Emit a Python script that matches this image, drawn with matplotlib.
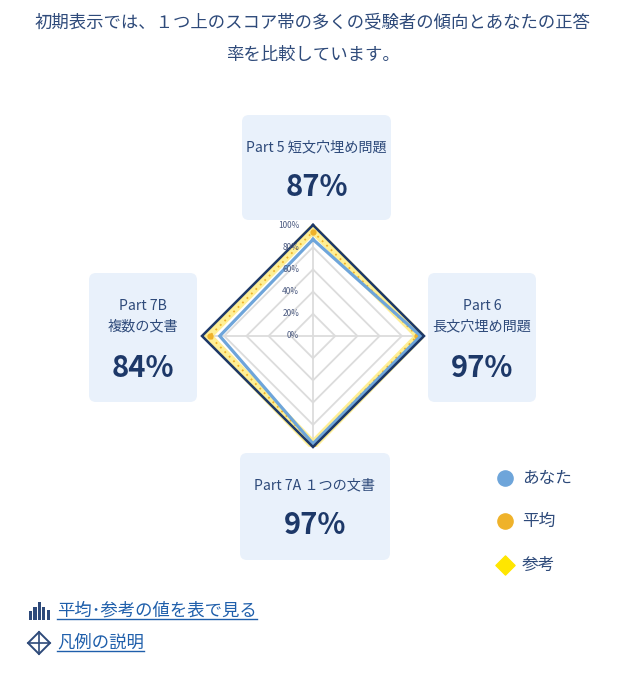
import numpy as np
import matplotlib.pyplot as plt
from matplotlib.patches import FancyBboxPatch, Polygon

# D A T A ----------------------------------------------------------
part_names = ['Part 5 短文穴埋め問題', 'Part 6\n長文穴埋め問題', 'Part 7A １つの文書', 'Part 7B\n複数の文書']
you_scores = [87, 97, 97, 84]          # あなた
avg_scores = [94, 94, 97, 93]          # 平均
ref_scores = [96, 96, 98, 95]          # 参考
grid_levels = [0, 20, 40, 60, 80, 100]
legend_names = ['あなた', '平均', '参考']
icon_bars = [0.5, 0.75, 1.0, 0.7, 0.55]

title_lines = ['初期表示では、１つ上のスコア帯の多くの受験者の傾向とあなたの正答',
               '率を比較しています。']
link_texts = ['平均･参考の値を表で見る', '凡例の説明']

# S T Y L E --------------------------------------------------------
FONT = ['Noto Sans CJK JP', 'DejaVu Sans']
plt.rcParams['font.family'] = FONT
NAVY = '#2e4a7a'
DARK_NAVY = '#1d3868'
BOX_FILL = '#e9f1fb'
BLUE = '#6ea5da'
ORANGE = '#efb22a'
YELLOW = '#ffe600'
BAND = '#ffeb7a'
GRID = '#dcdcdc'
LINK = '#1f5fab'

W, H = 626, 680
fig = plt.figure(figsize=(W / 100, H / 100), dpi=100)

# pixel-space background axes for boxes, text, legend, links
bg = fig.add_axes([0, 0, 1, 1], zorder=0)
bg.set_xlim(0, W)
bg.set_ylim(H, 0)
bg.axis('off')

# title
for y, line in zip([22, 55], title_lines):
    bg.text(313, y, line, ha='center', va='center', fontsize=12.5, color=NAVY)

# category boxes (x0, y0, x1, y1) in pixels
boxes = [(242, 115, 391, 220), (428, 273, 536, 402), (240, 453, 390, 560), (89, 273, 197, 402)]
for (x0, y0, x1, y1), name, val in zip(boxes, part_names, you_scores):
    bg.add_patch(FancyBboxPatch((x0, y0), x1 - x0, y1 - y0,
                                boxstyle='round,pad=0,rounding_size=7',
                                facecolor=BOX_FILL, edgecolor='none'))
    cx = (x0 + x1) / 2
    if '\n' in name:
        bg.text(cx, y0 + 43, name, ha='center', va='center', fontsize=10.2,
                color=NAVY, linespacing=1.55)
        bg.text(cx, y0 + 95, f'{val}%', ha='center', va='center', fontsize=21,
                fontweight='bold', color=DARK_NAVY)
    else:
        bg.text(cx, y0 + 32, name, ha='center', va='center', fontsize=10.2, color=NAVY)
        bg.text(cx, y0 + 72, f'{val}%', ha='center', va='center', fontsize=21,
                fontweight='bold', color=DARK_NAVY)

# legend
bg.scatter([505], [478], s=120, color=BLUE, zorder=3)
bg.scatter([505], [521], s=120, color=ORANGE, zorder=3)
bg.scatter([505], [565], s=95, marker='D', color=YELLOW, zorder=3)
for y, name in zip([478, 521, 565], legend_names):
    bg.text(522, y, name, ha='left', va='center', fontsize=12, color=NAVY)

# links
link_objs = []
for y, txt in zip([611, 643], link_texts):
    link_objs.append(bg.text(57, y, txt, ha='left', va='center', fontsize=12.5, color=LINK))

# bar icon
bx = 29 + np.arange(len(icon_bars)) * 4.4
bg.bar(bx, [-h * 18 for h in icon_bars], bottom=620, width=3.2, color=NAVY, align='edge')

# diamond icon
dcx, dcy, dr = 39, 643, 11
bg.add_patch(Polygon([(dcx, dcy - dr), (dcx + dr, dcy), (dcx, dcy + dr), (dcx - dr, dcy)],
                     closed=True, fill=False, edgecolor=NAVY, linewidth=1.4))
bg.plot([dcx - dr, dcx + dr], [dcy, dcy], color=NAVY, linewidth=1.2)
bg.plot([dcx, dcx], [dcy - dr, dcy + dr], color=NAVY, linewidth=1.2)

# R A D A R --------------------------------------------------------
cx_px, cy_px, R = 313, 336, 111
ax = fig.add_axes([(cx_px - R) / W, (H - cy_px - R) / H, 2 * R / W, 2 * R / H],
                  projection='polar', zorder=2)
ax.set_theta_offset(np.pi / 2)
ax.set_theta_direction(-1)
ax.set_ylim(0, 100)
ax.set_xticks([])
ax.set_yticks([])
ax.grid(False)
ax.spines['polar'].set_visible(False)
ax.patch.set_alpha(0)

n = len(part_names)
theta = np.arange(n) * 2 * np.pi / n
theta_c = np.append(theta, theta[0])

def closed(vals):
    return np.append(vals, vals[0])

# grid polygons and spokes
for lv in grid_levels[1:-1]:
    ax.plot(theta_c, closed([lv] * n), color=GRID, linewidth=1.3, zorder=1)
for t in theta:
    ax.plot([t, t], [0, 100], color=GRID, linewidth=1.3, zorder=1)

# 参考 band, 平均 dotted, あなた line
ax.plot(theta_c, closed(ref_scores), color=BAND, linewidth=6.5, alpha=0.8,
        solid_joinstyle='miter', zorder=2)
ax.plot(theta_c, closed(avg_scores), color=ORANGE, linewidth=1.3, linestyle=(0, (1, 2.5)),
        zorder=3)
ax.plot(theta, avg_scores, 'o', color=ORANGE, markersize=3.5, zorder=3)
ax.plot(theta_c, closed(you_scores), color=BLUE, linewidth=2.3,
        solid_joinstyle='miter', zorder=4)
# outer frame at 100%
ax.plot(theta_c, closed([grid_levels[-1]] * n), color=DARK_NAVY, linewidth=1.8,
        solid_joinstyle='miter', zorder=5, clip_on=False)

# level labels along the top spoke
for lv in grid_levels:
    ax.annotate(f'{lv}%', xy=(0, lv), xytext=(-10, 0), textcoords='offset points',
                ha='right', va='center', fontsize=6, color='#4b5a80', zorder=6,
                annotation_clip=False)

# underline the links
fig.canvas.draw()
renderer = fig.canvas.get_renderer()
inv = bg.transData.inverted()
for t in link_objs:
    bb = t.get_window_extent(renderer)
    (x0, y0), (x1, y1) = inv.transform([(bb.x0, bb.y0), (bb.x1, bb.y1)])
    bg.plot([x0, x1], [y0 - 1, y0 - 1], color=LINK, linewidth=1.0)

fig.savefig('out.png', dpi=100)
